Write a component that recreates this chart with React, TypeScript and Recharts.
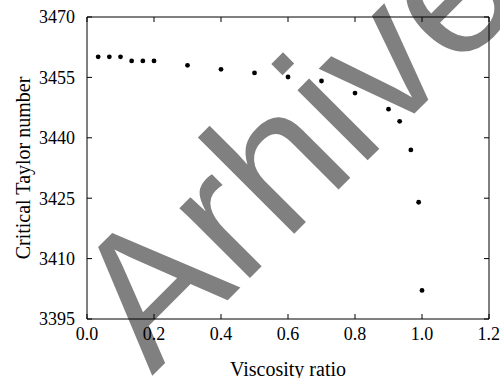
import React from "react";
import { ScatterChart, Scatter, XAxis, YAxis, ReferenceLine } from "recharts";

const viscosityRatio = [
  0.0333, 0.0667, 0.1, 0.1333, 0.1667, 0.2, 0.3, 0.4, 0.5, 0.6, 0.7, 0.8, 0.9,
  0.9333, 0.9667, 0.99, 1.0,
];
const taylorNumber = [
  3460.1, 3460.1, 3460.1, 3459.1, 3459.1, 3459.1, 3458.0, 3457.0, 3456.1,
  3455.1, 3454.1, 3451.1, 3447.1, 3444.1, 3437.0, 3424.0, 3402.1,
];
const xTicks = [0, 0.2, 0.4, 0.6, 0.8, 1.0, 1.2];
const yTicks = [3395, 3410, 3425, 3440, 3455, 3470];

const data = viscosityRatio.map((x, i) => ({ x, y: taylorNumber[i] }));

const serif = "Liberation Serif, Times New Roman, Times, serif";
const tickStyle = { fontFamily: serif, fontSize: 18, fill: "#000" };
const line = { stroke: "#000", strokeWidth: 1 };
const TICK_LEN = 5;

const Dot = (props: any) => <circle cx={props.cx} cy={props.cy} r={2.4} fill="#000" />;

// inward tick marks on both opposite sides of the frame
const VTick = (p: any) => {
  const lo = Math.max(p.y1, p.y2);
  const hi = Math.min(p.y1, p.y2);
  return (
    <g>
      <line x1={p.x1} x2={p.x1} y1={lo} y2={lo - TICK_LEN} stroke="#000" />
      <line x1={p.x1} x2={p.x1} y1={hi} y2={hi + TICK_LEN} stroke="#000" />
    </g>
  );
};
const HTick = (p: any) => {
  const l = Math.min(p.x1, p.x2);
  const r = Math.max(p.x1, p.x2);
  return (
    <g>
      <line x1={l} x2={l + TICK_LEN} y1={p.y1} y2={p.y1} stroke="#000" />
      <line x1={r} x2={r - TICK_LEN} y1={p.y1} y2={p.y1} stroke="#000" />
    </g>
  );
};

const App: React.FC = () => {
  return (
    <div
      style={{
        position: "absolute",
        left: 0,
        top: 0,
        width: 500,
        height: 378,
        background: "#fff",
        fontFamily: serif,
      }}
    >
      <svg width={500} height={378} style={{ position: "absolute", left: 0, top: 0 }}>
        <text
          x={152}
          y={376}
          transform="rotate(-45 152 376)"
          fontFamily="Liberation Sans, Arial, sans-serif"
          fontSize={188}
          fill="#808080"
        >
          Arhive
        </text>
      </svg>
      <div style={{ position: "absolute", left: 0, top: 0 }}>
        <ScatterChart width={500} height={378} margin={{ top: 16, right: 10, bottom: 0, left: 0 }}>
          <XAxis
            dataKey="x"
            type="number"
            domain={[0, 1.2]}
            ticks={xTicks}
            tickFormatter={(v: number) => v.toFixed(1)}
            height={59}
            tickSize={-5}
            tickMargin={13}
            axisLine={line}
            tickLine={false}
            tick={tickStyle}
            allowDataOverflow
            label={{
              value: "Viscosity ratio",
              position: "insideBottom",
              offset: 2,
              style: { fontFamily: serif, fontSize: 20, fill: "#000" },
            }}
          />
          <XAxis
            xAxisId="top"
            orientation="top"
            type="number"
            domain={[0, 1.2]}
            ticks={xTicks}
            height={1}
            tick={false}
            axisLine={line}
            tickLine={false}
            allowDataOverflow
          />
          <YAxis
            dataKey="y"
            type="number"
            domain={[3395, 3470]}
            ticks={yTicks}
            width={87}
            tickSize={-5}
            tickMargin={17}
            axisLine={line}
            tickLine={false}
            tick={tickStyle}
            allowDataOverflow
            label={{
              value: "Critical Taylor number",
              position: "insideLeft",
              angle: -90,
              offset: 23,
              style: { fontFamily: serif, fontSize: 20, fill: "#000", textAnchor: "middle" },
            }}
          />
          <YAxis
            yAxisId="right"
            orientation="right"
            type="number"
            domain={[3395, 3470]}
            ticks={yTicks}
            width={1}
            tick={false}
            axisLine={line}
            tickLine={false}
            allowDataOverflow
          />
          {xTicks.map((t) => (
            <ReferenceLine key={`xt${t}`} x={t} shape={VTick} />
          ))}
          {yTicks.map((t) => (
            <ReferenceLine key={`yt${t}`} y={t} shape={HTick} />
          ))}
          <Scatter data={data} fill="#000" shape={Dot} isAnimationActive={false} />
        </ScatterChart>
      </div>
    </div>
  );
};

export default App;
